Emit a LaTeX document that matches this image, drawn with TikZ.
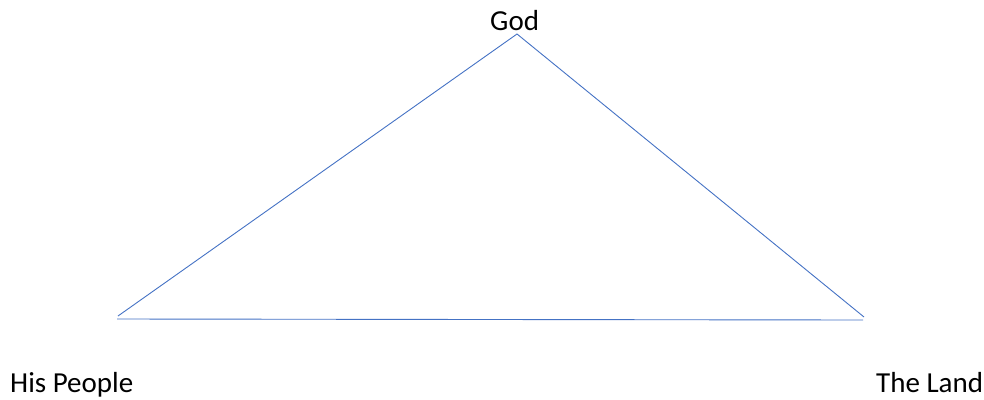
\documentclass[tikz,border=0pt]{standalone}
\usepackage{fontspec}
\setmainfont{Carlito}
\definecolor{lineblue}{RGB}{68,114,196}
\begin{document}
\begin{tikzpicture}[x=1pt,y=-1pt,
  edge/.style={draw=lineblue,line width=0.9pt},
  lbl/.style={font=\fontsize{29}{34}\selectfont,inner sep=0pt,anchor=base west}]
\useasboundingbox (0,0) rectangle (984,399);
\coordinate (top) at (517,34);
\coordinate (bl) at (118,316);
\coordinate (br) at (864,317);
\coordinate (bl2) at (117,319);
\coordinate (br2) at (863,320);
\draw[edge] (bl) -- (top) -- (br);
\draw[edge] (bl2) -- (br2);
\node[lbl] (god) at (490,30) {God};
\node[lbl] (people) at (10,392) {His People};
\node[lbl] (land) at (876,392) {The Land};
\end{tikzpicture}
\end{document}
